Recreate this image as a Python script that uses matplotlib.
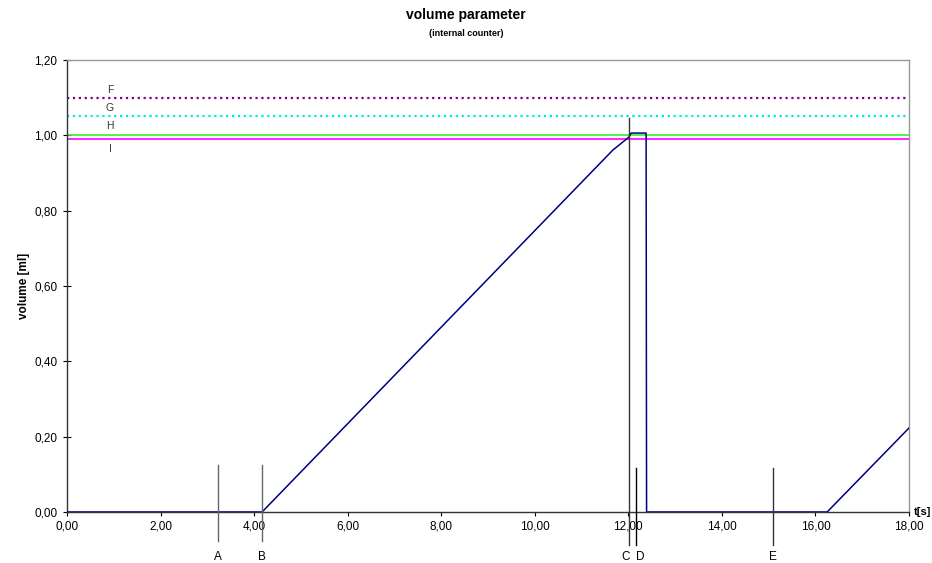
import matplotlib
matplotlib.use("Agg")
import matplotlib.pyplot as plt
from matplotlib.ticker import FuncFormatter, MultipleLocator

plt.rcParams['font.family'] = ['Liberation Sans', 'DejaVu Sans']

# volume curve (t [s], volume [ml])
t_vals = [0.0, 4.17, 11.67, 12.01, 12.06, 12.38, 12.39, 16.25, 18.0]
v_vals = [0.0, 0.0, 0.961, 0.995, 1.006, 1.006, 0.0, 0.0, 0.223]

# limit lines
limit_names = ['F', 'G', 'H', 'I']
limit_values = [1.10, 1.05, 1.00, 0.99]
limit_colors = ['#800080', '#00e5ee', '#33ee33', '#ff00ff']
limit_styles = [':', ':', '-', '-']
limit_label_y = [1.12, 1.072, 1.025, 0.963]

# event markers
event_names = ['A', 'B', 'C', 'D', 'E']
event_times = [3.23, 4.17, 12.01, 12.16, 15.09]
event_tops = [0.125, 0.125, 1.046, 0.117, 0.117]
event_bottoms = [-0.077, -0.077, -0.087, -0.087, -0.087]
event_colors = ['#666666', '#666666', '#333333', '#000000', '#333333']
event_label_x = [3.23, 4.17, 11.95, 12.25, 15.09]

fig = plt.figure(figsize=(9.32, 5.63), dpi=100)
ax = fig.add_axes([67/932, 1-512/563, (909-67)/932, (512-60)/563])

for name, val, col, ls, ly in zip(limit_names, limit_values, limit_colors, limit_styles, limit_label_y):
    ax.plot([0, 18], [val, val], color=col, linestyle=ls, linewidth=1.6 if ls == ':' else 1.2)
    ax.text(0.92, ly, name, fontsize=7.5, ha='center', va='center', color='#333333')

ax.plot(t_vals, v_vals, color='#000080', linewidth=1.1, zorder=3)

for name, t, top, bot, col, lx in zip(event_names, event_times, event_tops, event_bottoms, event_colors, event_label_x):
    ax.plot([t, t], [bot, top], color=col, linewidth=1.0, clip_on=False, zorder=4)
    ax.text(lx, -0.119, name, fontsize=8.5, ha='center', va='center')

ax.set_xlim(0, 18)
ax.set_ylim(0, 1.2)
ax.xaxis.set_major_locator(MultipleLocator(2))
ax.yaxis.set_major_locator(MultipleLocator(0.2))
fmt = FuncFormatter(lambda v, p: f"{v:.2f}".replace('.', ','))
ax.xaxis.set_major_formatter(fmt)
ax.yaxis.set_major_formatter(fmt)
ax.tick_params(axis='x', direction='out', length=3, labelsize=8.5, pad=3)
ax.tick_params(axis='y', direction='inout', length=6, labelsize=8.5, pad=4)

for s in ['top', 'right']:
    ax.spines[s].set_color('#999999')
    ax.spines[s].set_linewidth(1.0)
for s in ['left', 'bottom']:
    ax.spines[s].set_color('#333333')
    ax.spines[s].set_linewidth(1.0)

ax.set_ylabel('volume [ml]', fontsize=8.5, fontweight='bold', labelpad=3)
fig.text(931/932, 1-512/563, 't[s]', fontsize=8, fontweight='bold', ha='right', va='center')

fig.text(0.5, 1-15/563, 'volume parameter', fontsize=10, fontweight='bold', ha='center', va='center')
fig.text(0.5, 1-34/563, '(internal counter)', fontsize=6.5, fontweight='bold', ha='center', va='center')

fig.savefig('out.png', dpi=100)
